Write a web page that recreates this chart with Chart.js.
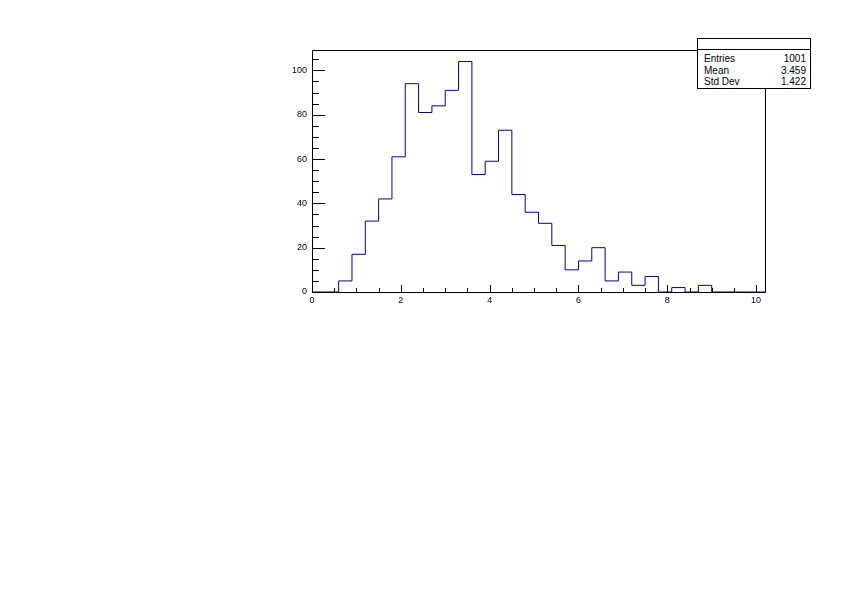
<!DOCTYPE html>
<html>
<head>
<meta charset="utf-8">
<script src="https://cdn.jsdelivr.net/npm/chart.js@4/dist/chart.umd.min.js"></script>
<style>
  html, body { margin: 0; padding: 0; background: #fff; }
  #wrap { position: relative; width: 842px; height: 595px; }
  #stats { position: absolute; left: 697px; top: 38px; width: 112px; height: 49px; border: 1px solid #000; background: #fff;
           font-family: "Liberation Sans", Arial, sans-serif; font-size: 10px; color: #000; box-sizing: content-box; }
  #stats .title { height: 10px; border-bottom: 1px solid #000; margin-bottom: 3px; }
  #stats .row { display: flex; justify-content: space-between; padding: 0 4px 0 6px; height: 11.5px; line-height: 11.5px; }
</style>
</head>
<body>
<div id="wrap">
  <canvas id="c" width="842" height="595"></canvas>
  <div id="stats">
    <div class="title"></div>
    <div class="row"><span>Entries</span><span>1001</span></div>
    <div class="row"><span>Mean</span><span>3.459</span></div>
    <div class="row"><span>Std Dev</span><span>1.422</span></div>
  </div>
</div>
<script>
// Histogram: 34 bins of width 0.3 from 0 to 10.2
const binEdges = [0,0.3,0.6,0.9,1.2,1.5,1.8,2.1,2.4,2.7,3.0,3.3,3.6,3.9,4.2,4.5,4.8,5.1,5.4,5.7,6.0,6.3,6.6,6.9,7.2,7.5,7.8,8.1,8.4,8.7,9.0,9.3,9.6,9.9,10.2];
const binCounts = [0,0,5,17,32,42,61,94,81,84,91,104,53,59,73,44,36,31,21,10,14,20,5,9,3,7,0,2,0,3,0,0,0,0];
const xTickLabels = [0,2,4,6,8,10];
const yTickLabels = [0,20,40,60,80,100];
const xRange = [0, 10.2];
const yRange = [0, 109.2];

// step outline: each point is the upper edge of a bin carrying that bin's count
const points = [{x: binEdges[0], y: binCounts[0]}];
binCounts.forEach((v, i) => points.push({x: binEdges[i + 1], y: v}));

const frameTicks = {
  id: 'frameTicks',
  afterDraw(chart) {
    const ctx = chart.ctx, a = chart.chartArea;
    const xs = chart.scales.x, ys = chart.scales.y;
    ctx.save();
    ctx.strokeStyle = '#000';
    ctx.lineWidth = 1;
    ctx.beginPath();
    ctx.rect(Math.round(a.left) + 0.5, Math.round(a.top) + 0.5, Math.round(a.right - a.left), Math.round(a.bottom - a.top));
    ctx.stroke();
    ctx.beginPath();
    for (let k = 0; k <= 20; k++) {
      const v = k * 0.5;
      const px = Math.round(xs.getPixelForValue(v)) + 0.5;
      const len = (k % 4 === 0) ? 7 : 4;
      ctx.moveTo(px, a.bottom);
      ctx.lineTo(px, a.bottom - len);
    }
    for (let k = 0; k <= 21; k++) {
      const v = k * 5;
      const py = Math.round(ys.getPixelForValue(v)) + 0.5;
      const len = (k % 4 === 0) ? 13 : 7;
      ctx.moveTo(a.left, py);
      ctx.lineTo(a.left + len, py);
    }
    ctx.stroke();
    ctx.restore();
  }
};

new Chart(document.getElementById('c'), {
  type: 'line',
  data: {
    datasets: [{
      data: points,
      stepped: 'after',
      borderColor: 'rgb(0,0,153)',
      borderWidth: 1,
      pointRadius: 0,
      fill: false
    }]
  },
  options: {
    responsive: false,
    devicePixelRatio: 1,
    animation: false,
    layout: { padding: { top: 50, right: 77, left: 0, bottom: 0 } },
    plugins: { legend: { display: false }, tooltip: { enabled: false } },
    scales: {
      x: {
        type: 'linear', min: xRange[0], max: xRange[1],
        grid: { display: false, drawTicks: false },
        border: { display: false },
        afterBuildTicks(s) { s.ticks = xTickLabels.map(v => ({value: v})); },
        afterFit(s) { s.height = 303; },
        ticks: { padding: 3, color: '#000', font: { family: 'Liberation Sans', size: 9 }, maxRotation: 0, autoSkip: false }
      },
      y: {
        type: 'linear', min: yRange[0], max: yRange[1],
        grid: { display: false, drawTicks: false },
        border: { display: false },
        afterBuildTicks(s) { s.ticks = yTickLabels.map(v => ({value: v})); },
        afterFit(s) { s.width = 312; },
        ticks: { padding: 5, color: '#000', font: { family: 'Liberation Sans', size: 9 } }
      }
    }
  },
  plugins: [frameTicks]
});
</script>
</body>
</html>
